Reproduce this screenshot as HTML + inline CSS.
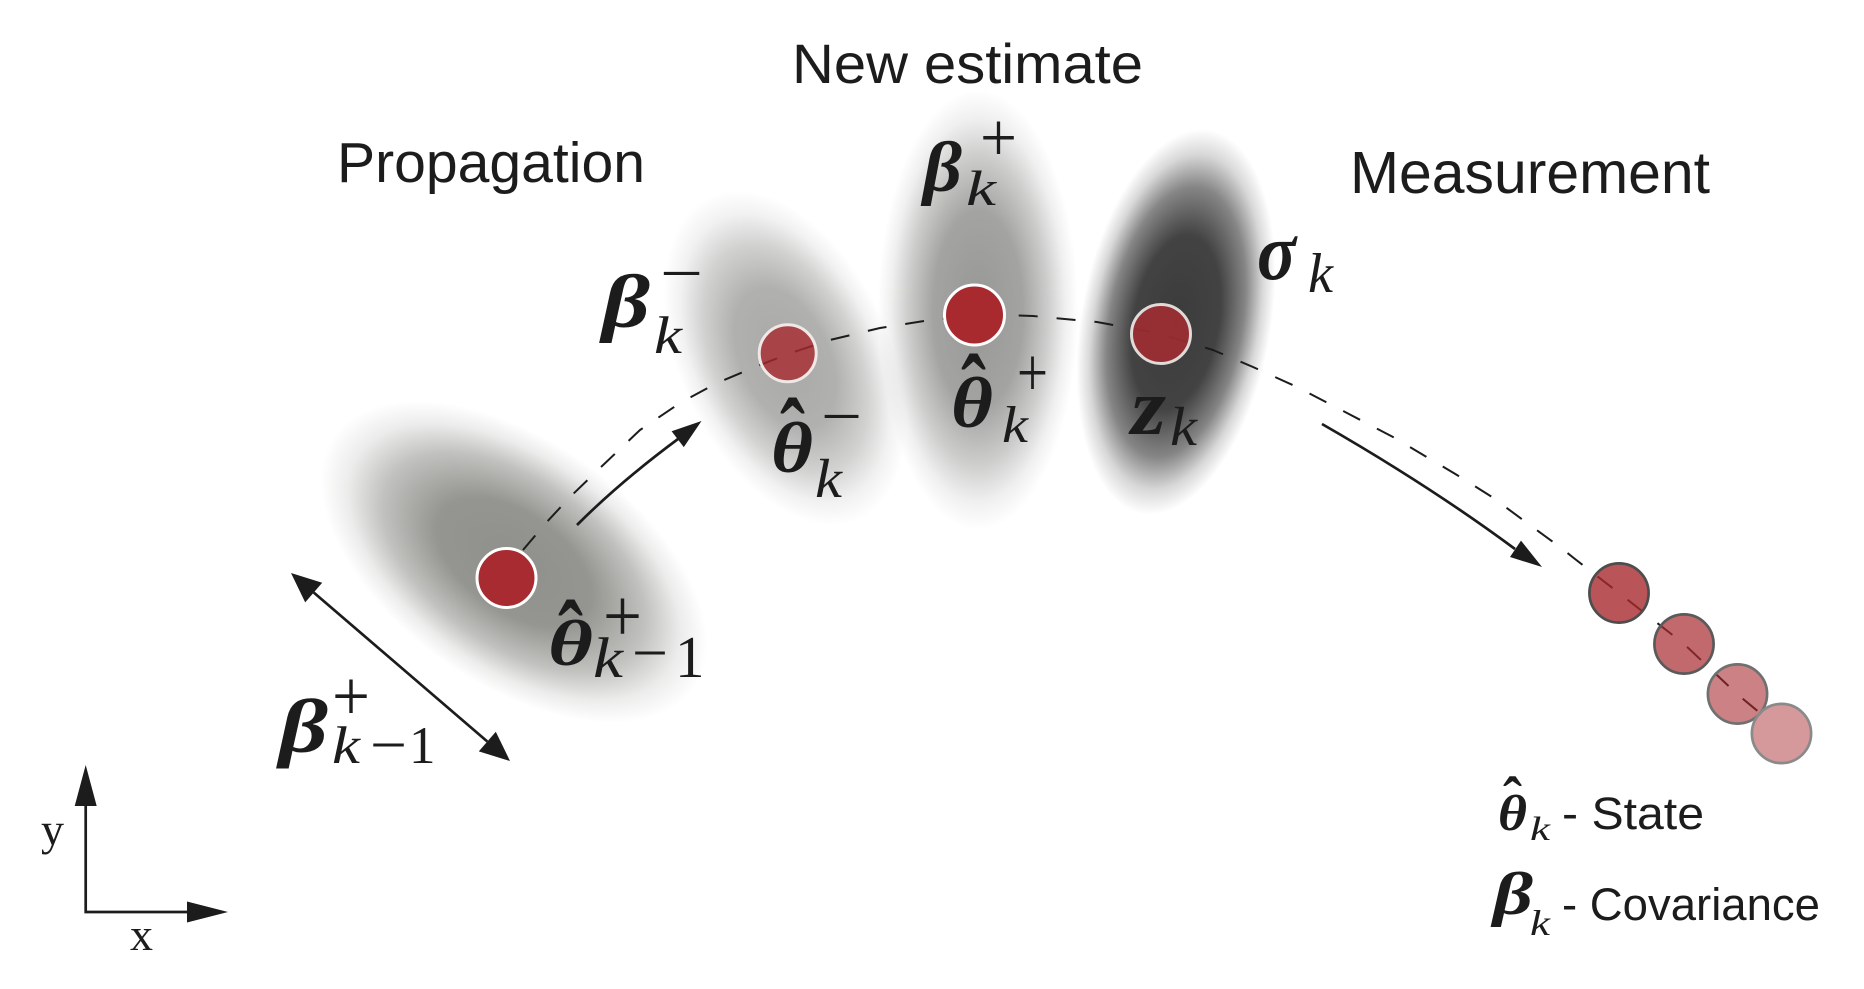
<!DOCTYPE html>
<html><head><meta charset="utf-8">
<style>
html,body{margin:0;padding:0;background:#fff;}
svg{display:block;}
.h{font-family:"Liberation Sans",sans-serif;fill:#1c1c1c;}
.m{font-family:"Liberation Serif","DejaVu Serif",serif;font-style:italic;font-weight:bold;fill:#1c1c1c;}
.i{font-family:"Liberation Serif","DejaVu Serif",serif;font-style:italic;fill:#1c1c1c;}
.r{font-family:"Liberation Serif","DejaVu Serif",serif;fill:#1c1c1c;}
.hb{font-family:"Liberation Serif","DejaVu Serif",serif;font-weight:bold;fill:#1c1c1c;}
</style></head><body>
<svg width="1864" height="989" viewBox="0 0 1864 989" xmlns="http://www.w3.org/2000/svg">
<defs>
<radialGradient id="gA">
<stop offset="0" stop-color="#8f908b" stop-opacity="1"/>
<stop offset="0.4" stop-color="#8f908b" stop-opacity="0.95"/>
<stop offset="0.68" stop-color="#8f908b" stop-opacity="0.55"/>
<stop offset="0.86" stop-color="#8f908b" stop-opacity="0.17"/>
<stop offset="1" stop-color="#8f908b" stop-opacity="0"/>
</radialGradient>
<radialGradient id="gB">
<stop offset="0" stop-color="#a8a8a6" stop-opacity="1"/>
<stop offset="0.42" stop-color="#a8a8a6" stop-opacity="0.9"/>
<stop offset="0.68" stop-color="#a8a8a6" stop-opacity="0.52"/>
<stop offset="0.86" stop-color="#a8a8a6" stop-opacity="0.16"/>
<stop offset="1" stop-color="#a8a8a6" stop-opacity="0"/>
</radialGradient>
<radialGradient id="gC">
<stop offset="0" stop-color="#979795" stop-opacity="1"/>
<stop offset="0.45" stop-color="#979795" stop-opacity="0.88"/>
<stop offset="0.7" stop-color="#979795" stop-opacity="0.48"/>
<stop offset="0.87" stop-color="#979795" stop-opacity="0.15"/>
<stop offset="1" stop-color="#979795" stop-opacity="0"/>
</radialGradient>
<radialGradient id="gD">
<stop offset="0" stop-color="#3b3b3b" stop-opacity="1"/>
<stop offset="0.45" stop-color="#3b3b3b" stop-opacity="0.96"/>
<stop offset="0.7" stop-color="#3b3b3b" stop-opacity="0.62"/>
<stop offset="0.87" stop-color="#3b3b3b" stop-opacity="0.2"/>
<stop offset="1" stop-color="#3b3b3b" stop-opacity="0"/>
</radialGradient>
</defs>

<!-- blobs -->
<ellipse cx="514" cy="562" rx="220" ry="122" fill="url(#gA)" transform="rotate(35 514 562)"/>
<ellipse cx="785" cy="358" rx="105" ry="178" fill="url(#gB)" transform="rotate(-25 785 358)"/>
<ellipse cx="978" cy="310" rx="100" ry="220" fill="url(#gC)"/>
<ellipse cx="1176" cy="322" rx="95" ry="195" fill="url(#gD)" transform="rotate(10 1176 322)"/>

<!-- dashed trajectory -->
<polyline fill="none" stroke="#1c1c1c" stroke-width="2" stroke-dasharray="19 19" stroke-linejoin="round"
points="523,550 545,524 570,497 600,468 640,430 680,403 717,383 755,367 788,354 830,340 880,328 930,320 975,316 1006,315 1033,316 1097,322 1157,333 1213,350 1253,367 1297,387 1347,413 1393,437 1457,475 1492,497 1527,523 1560,547 1575,559 1619,593 1684,644 1737,694 1760,713"/>

<!-- arrows -->
<g stroke="#1c1c1c" stroke-width="2.7" fill="none">
<path d="M577,525 Q620,482 678,439"/>
<path d="M1322,424 Q1430,486 1515,549"/>
<line x1="313.7" y1="592.5" x2="487.3" y2="741.5"/>
<path d="M85.7,804 V912 H190" stroke-linejoin="miter"/>
</g>
<g fill="#1c1c1c">
<polygon points="701.5,421 683.8,447.1 671.6,431.3"/>
<polygon points="1542,567 1510,557 1521,540.6"/>
<polygon points="291,573 305.2,602.4 322.2,582.7"/>
<polygon points="510,761 478.8,751.4 495.8,731.7"/>
<polygon points="85.7,765 74.7,806 96.7,806"/>
<polygon points="228,912 187,901.5 187,922.5"/>
</g>

<!-- main circles -->
<circle cx="506.5" cy="578" r="29.5" fill="#a72b30" stroke="#ffffff" stroke-width="3"/>
<circle cx="787.7" cy="353.3" r="28.5" fill="#a82a2f" fill-opacity="0.8" stroke="#f0e8e6" stroke-width="3"/>
<circle cx="974.5" cy="315" r="30" fill="#a82a2f" stroke="#ffffff" stroke-width="3"/>
<circle cx="1161" cy="334" r="29.5" fill="#a02e32" fill-opacity="0.9" stroke="#e0dad8" stroke-width="3"/>

<!-- trail circles -->
<circle cx="1619" cy="593" r="29.6" fill="#a82a2f" fill-opacity="0.8" stroke="#4d4d4d" stroke-width="2.7"/>
<circle cx="1684" cy="644" r="29.6" fill="#a82a2f" fill-opacity="0.7" stroke="#5a5a5a" stroke-width="2.7"/>
<circle cx="1737.5" cy="694" r="29.6" fill="#a82a2f" fill-opacity="0.59" stroke="#707070" stroke-width="2.7"/>
<circle cx="1781.5" cy="733.5" r="29.6" fill="#a82a2f" fill-opacity="0.48" stroke="#8a8a8a" stroke-width="2.7"/>

<!-- headings -->
<text class="h" x="337" y="182" font-size="57" textLength="308" lengthAdjust="spacingAndGlyphs">Propagation</text>
<text class="h" x="792" y="83" font-size="56" textLength="351" lengthAdjust="spacingAndGlyphs">New estimate</text>
<text class="h" x="1350" y="193" font-size="59" textLength="360" lengthAdjust="spacingAndGlyphs">Measurement</text>

<!-- beta_k^- -->
<text class="m" x="602" y="327" font-size="75" textLength="48" lengthAdjust="spacingAndGlyphs">β</text>
<text class="r" x="660" y="294" font-size="62" textLength="43" lengthAdjust="spacingAndGlyphs">−</text>
<text class="i" x="654" y="353" font-size="53" textLength="28" lengthAdjust="spacingAndGlyphs">k</text>

<!-- theta_k^- -->
<text class="m" x="771" y="472" font-size="72" textLength="42" lengthAdjust="spacingAndGlyphs">θ</text>
<text class="hb" x="780" y="468" font-size="100" textLength="25" lengthAdjust="spacingAndGlyphs">ˆ</text>
<text class="r" x="821" y="437" font-size="62" textLength="41" lengthAdjust="spacingAndGlyphs">−</text>
<text class="i" x="815" y="497" font-size="55" textLength="27" lengthAdjust="spacingAndGlyphs">k</text>

<!-- beta_k^+ -->
<text class="m" x="923" y="191" font-size="71" textLength="39" lengthAdjust="spacingAndGlyphs">β</text>
<text class="r" x="980" y="161" font-size="70" textLength="37" lengthAdjust="spacingAndGlyphs">+</text>
<text class="i" x="966" y="205" font-size="50" textLength="30" lengthAdjust="spacingAndGlyphs">k</text>

<!-- theta_k^+ -->
<text class="m" x="951" y="427" font-size="72" textLength="42" lengthAdjust="spacingAndGlyphs">θ</text>
<text class="hb" x="961" y="424" font-size="100" textLength="25" lengthAdjust="spacingAndGlyphs">ˆ</text>
<text class="r" x="1017" y="396" font-size="70" textLength="31" lengthAdjust="spacingAndGlyphs">+</text>
<text class="i" x="1002" y="442" font-size="52" textLength="26" lengthAdjust="spacingAndGlyphs">k</text>

<!-- z_k -->
<text class="m" x="1131" y="434" font-size="80" textLength="35" lengthAdjust="spacingAndGlyphs">z</text>
<text class="i" x="1170" y="445" font-size="55" textLength="27" lengthAdjust="spacingAndGlyphs">k</text>

<!-- sigma_k -->
<text class="m" x="1257" y="279" font-size="82" textLength="39" lengthAdjust="spacingAndGlyphs">σ</text>
<text class="i" x="1308" y="292" font-size="56" textLength="25" lengthAdjust="spacingAndGlyphs">k</text>

<!-- theta_{k-1}^+ -->
<text class="m" x="548" y="665" font-size="65" textLength="45" lengthAdjust="spacingAndGlyphs">θ</text>
<text class="hb" x="558" y="670" font-size="100" textLength="25" lengthAdjust="spacingAndGlyphs">ˆ</text>
<text class="r" x="603" y="641" font-size="75" textLength="39" lengthAdjust="spacingAndGlyphs">+</text>
<text class="i" x="593" y="677" font-size="57" textLength="30" lengthAdjust="spacingAndGlyphs">k</text>
<text class="r" x="632" y="673" font-size="60" textLength="36" lengthAdjust="spacingAndGlyphs">−</text>
<text class="r" x="675" y="677" font-size="59">1</text>

<!-- beta_{k-1}^+ -->
<text class="m" x="279" y="752" font-size="76" textLength="49" lengthAdjust="spacingAndGlyphs">β</text>
<text class="r" x="332" y="720" font-size="72" textLength="38" lengthAdjust="spacingAndGlyphs">+</text>
<text class="i" x="332" y="763" font-size="53" textLength="28" lengthAdjust="spacingAndGlyphs">k</text>
<text class="r" x="370" y="765" font-size="60" textLength="37" lengthAdjust="spacingAndGlyphs">−</text>
<text class="r" x="409" y="763" font-size="53">1</text>

<!-- axis labels -->
<text class="r" x="41" y="845" font-size="46">y</text>
<text class="r" x="130" y="950" font-size="46">x</text>

<!-- legend -->
<text class="m" x="1498" y="830" font-size="51" textLength="29" lengthAdjust="spacingAndGlyphs">θ</text>
<text class="hb" x="1503" y="819" font-size="60" textLength="19" lengthAdjust="spacingAndGlyphs">ˆ</text>
<text class="i" x="1530" y="840" font-size="34" textLength="20" lengthAdjust="spacingAndGlyphs">k</text>
<text class="h" x="1562" y="829" font-size="45" textLength="142" lengthAdjust="spacingAndGlyphs">- State</text>

<text class="m" x="1493" y="914" font-size="60" textLength="40" lengthAdjust="spacingAndGlyphs">β</text>
<text class="i" x="1530" y="935" font-size="36" textLength="20" lengthAdjust="spacingAndGlyphs">k</text>
<text class="h" x="1562" y="920" font-size="45" textLength="258" lengthAdjust="spacingAndGlyphs">- Covariance</text>
</svg>
</body></html>
